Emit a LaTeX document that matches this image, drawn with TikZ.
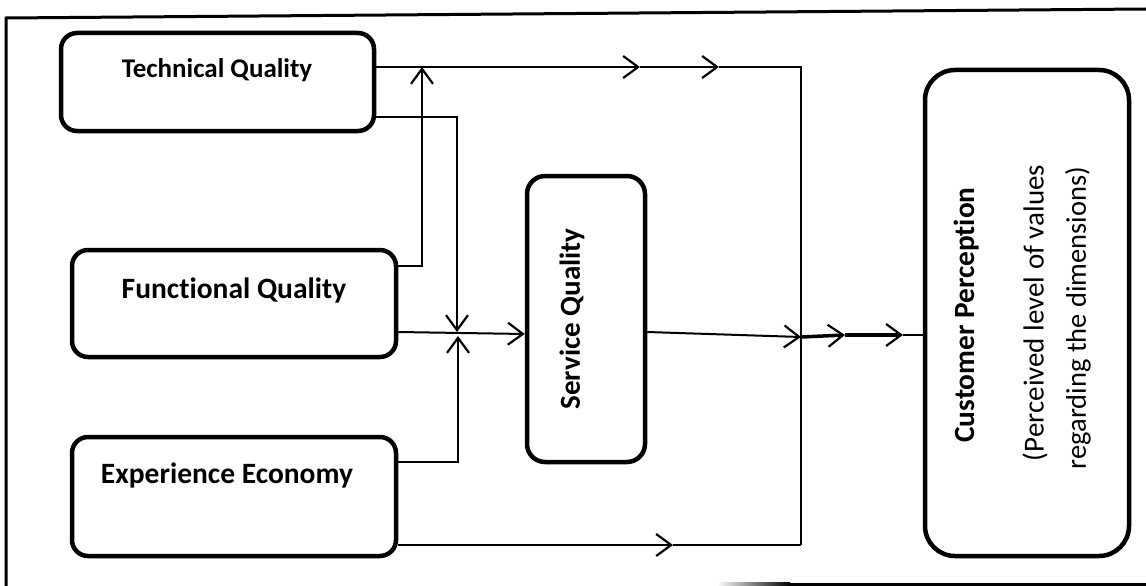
\documentclass[tikz,border=0pt]{standalone}
\usepackage{fontspec}
\setmainfont{Carlito}[Ligatures={NoCommon}]
\usetikzlibrary{arrows.meta,calc}
\begin{document}
\begin{tikzpicture}[x=1pt,y=-1pt,
  box/.style={draw,line width=4.5pt,rounded corners=16pt,inner sep=0pt},
  bigbox/.style={draw,line width=4.5pt,rounded corners=30pt,inner sep=0pt},
  lbl/.style={font=\bfseries\fontsize{#1}{#1}\selectfont,inner sep=0pt},
  plain/.style={font=\fontsize{#1}{#1}\selectfont,inner sep=0pt},
  conn/.style={line width=2pt},
  thick conn/.style={line width=3.5pt},
  tip/.style={-{Straight Barb[length=15pt,width=22pt,line width=2.2pt]}},
  frame/.style={line width=3pt}
]
\useasboundingbox (0,0) rectangle (1146,586);
% frame
\draw[frame] (1146,9) -- (6,18) -- (6,586);
\shade[left color=white,right color=black] (717,582.5) rectangle (790,585.5);
\fill (790,582.5) rectangle (1146,585.5);

% boxes
\node[box,minimum width=313pt,minimum height=98pt] (tech) at (217.5,82) {};
\node[box,minimum width=324pt,minimum height=107pt] (func) at (234,303.5) {};
\node[box,minimum width=324pt,minimum height=119pt] (exp) at (234,496.5) {};
\node[box,rounded corners=18pt,minimum width=118pt,minimum height=286pt] (sq) at (586,319) {};
\node[bigbox,minimum width=204pt,minimum height=486pt] (cust) at (1027,313) {};

% labels
\node[lbl=27] (techl) at (217,70) {Technical Quality};
\node[lbl=29.5] (funcl) at (234,290) {Functional Quality};
\node[lbl=29.5] (expl) at (227,475) {Experience Economy};
\node[lbl=29,rotate=90] (sql) at (572,319) {Service Quality};
\node[lbl=29.3,rotate=90] (custl) at (967,315) {Customer Perception};
\node[plain=29,rotate=90] (custa) at (1035,313) {(Perceived level of values};
\node[plain=28.5,rotate=90] (custb) at (1078,318) {regarding the dimensions)};

% junction coordinates
\coordinate (tr) at (801,67);
\coordinate (br) at (801,545);
\coordinate (mr) at (801,337);
\coordinate (a1) at (640,67);
\coordinate (a2) at (719,67);
\coordinate (a3) at (673,545);
\coordinate (v1) at (422,67);
\coordinate (v1b) at (422,266);
\coordinate (v2) at (457,117);
\coordinate (v2b) at (457,332);
\coordinate (v3) at (458,462);
\coordinate (v3b) at (458,336);
\coordinate (c1) at (845,335);
\coordinate (c2) at (903,335);

% technical quality: top route to customer
\draw[conn] ([yshift=15pt]tech.east) -- (v1);
\draw[conn,tip] (v1) -- (a1);
\draw[conn,tip] (a1) -- (a2);
\draw[conn] (a2) -- (tr) -- (br);
% experience economy: bottom route
\draw[conn,tip] ([yshift=-48.5pt]exp.east) -- (a3);
\draw[conn] (a3) -- (br);
% technical quality -> service quality junction
\draw[conn,tip] ([yshift=-35pt]tech.east) -- (v2) -- (v2b);
% functional quality -> top line
\draw[conn,tip] ([yshift=37.5pt]func.east) -- (v1b) -- (v1);
% functional quality -> service quality
\draw[conn,tip] ([yshift=-28.5pt]func.east) -- ([yshift=-15pt]sq.west);
% experience economy -> junction
\draw[conn,tip] ([yshift=34.5pt]exp.east) -- (v3) -- (v3b);
% service quality -> customer perception
\draw[conn,tip] ([yshift=-13pt]sq.east) -- (mr);
\draw[thick conn,tip] (mr) -- (c1);
\draw[thick conn,tip] (c1) -- (c2);
\draw[conn] (c2) -- ([yshift=-22pt]cust.west);
\end{tikzpicture}
\end{document}
